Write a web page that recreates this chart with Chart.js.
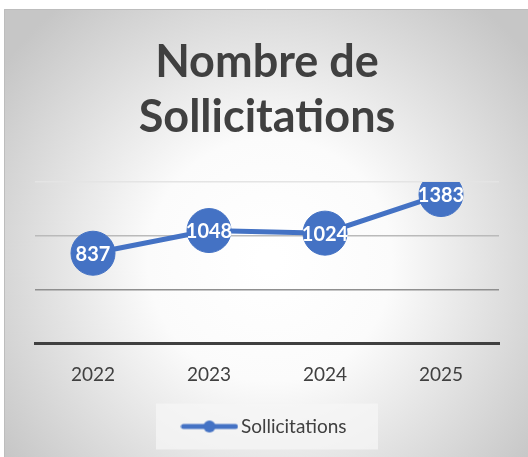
<!DOCTYPE html>
<html>
<head>
<meta charset="utf-8">
<script src="https://cdn.jsdelivr.net/npm/chart.js@4.4.1/dist/chart.umd.min.js"></script>
<style>
html,body{margin:0;padding:0;background:#fff;}
#wrap{position:absolute;left:0;top:0;width:528px;height:457px;}
</style>
</head>
<body>
<div id="wrap"><canvas id="c" width="528" height="457"></canvas></div>
<script>
const categories = ["2022", "2023", "2024", "2025"];
const sollicitations = [837, 1048, 1024, 1383];
const seriesName = "Sollicitations";
const titleLines = ["Nombre de", "Sollicitations"];
const yTicks = [0, 500, 1000, 1500];

const BLUE = "#4472C4";

// legend icon: line with dot
const icon = document.createElement("canvas");
icon.width = 58; icon.height = 14;
(function(){
  const g = icon.getContext("2d");
  g.strokeStyle = BLUE; g.lineWidth = 5; g.lineCap = "round";
  g.beginPath(); g.moveTo(3, 7); g.lineTo(55, 7); g.stroke();
  g.fillStyle = BLUE; g.beginPath(); g.arc(29, 7, 6, 0, Math.PI*2); g.fill();
})();

const bgPlugin = {
  id: "bg",
  beforeDraw(chart) {
    const ctx = chart.ctx;
    ctx.save();
    ctx.fillStyle = "#fff";
    ctx.fillRect(0, 0, chart.width, chart.height);
    const x0 = 4, y0 = 9, x1 = chart.width, y1 = chart.height;
    const grd = ctx.createRadialGradient(270, 260, 10, 270, 260, 330);
    grd.addColorStop(0, "#ffffff");
    grd.addColorStop(0.35, "#fbfbfb");
    grd.addColorStop(1, "#c6c6c6");
    ctx.fillStyle = grd;
    ctx.fillRect(x0, y0, x1 - x0, y1 - y0);
    ctx.strokeStyle = "#bdbdbd";
    ctx.lineWidth = 1;
    ctx.beginPath();
    ctx.moveTo(x0 + 0.5, y1); ctx.lineTo(x0 + 0.5, y0 + 0.5); ctx.lineTo(x1, y0 + 0.5);
    ctx.stroke();
    // legend box
    const lg = chart.legend;
    if (lg && lg.legendHitBoxes && lg.legendHitBoxes.length) {
      const hb = lg.legendHitBoxes[0];
      const cy = hb.top + hb.height / 2;
      ctx.fillStyle = "rgba(245,245,245,0.75)";
      ctx.fillRect(156, cy - 23, 222, 46);
    }
    ctx.restore();
  }
};

const labelPlugin = {
  id: "pointLabels",
  afterDatasetsDraw(chart) {
    const ctx = chart.ctx;
    const meta = chart.getDatasetMeta(0);
    ctx.save();
    ctx.fillStyle = "#ffffff";
    ctx.font = "bold 20px Lato, 'Liberation Sans', sans-serif";
    ctx.textAlign = "center";
    ctx.textBaseline = "middle";
    meta.data.forEach((pt, i) => {
      ctx.fillText(String(chart.data.datasets[0].data[i]), pt.x, pt.y + 1);
    });
    ctx.restore();
  }
};

const gridColors = ["#404040", "#8f8f8f", "#bababa", "#e4e4e4"];

new Chart(document.getElementById("c"), {
  type: "line",
  data: {
    labels: categories,
    datasets: [{
      label: seriesName,
      data: sollicitations,
      borderColor: BLUE,
      backgroundColor: BLUE,
      borderWidth: 5,
      pointRadius: 22,
      pointHoverRadius: 22,
      pointBackgroundColor: BLUE,
      pointBorderColor: BLUE,
      pointBorderWidth: 1,
      tension: 0
    }]
  },
  plugins: [bgPlugin, labelPlugin],
  options: {
    responsive: false,
    animation: false,
    devicePixelRatio: 1,
    layout: { padding: { left: 35, right: 29, top: 34, bottom: 11 } },
    scales: {
      x: {
        offset: true,
        afterFit(scale) { scale.height -= 5; },
        grid: { display: false, drawTicks: false },
        border: { display: true, color: "#404040", width: 3 },
        ticks: { color: "#404040", font: { size: 19, family: "Lato, 'Liberation Sans', sans-serif" }, padding: 20 }
      },
      y: {
        min: 0, max: 1500,
        afterBuildTicks(scale) { scale.ticks = yTicks.map(v => ({ value: v })); },
        afterFit(scale) { scale.width = 0; },
        grid: {
          drawTicks: false,
          lineWidth: 1.5,
          color: (c) => gridColors[c.index] || "#ccc"
        },
        border: { display: false },
        ticks: { display: false }
      }
    },
    plugins: {
      title: {
        display: true,
        text: titleLines,
        color: "#404040",
        font: { size: 45, weight: "bold", family: "Lato, 'Liberation Sans', sans-serif", lineHeight: 1.244 },
        padding: { top: 0, bottom: 36 }
      },
      legend: {
        display: true,
        position: "bottom",
        labels: {
          usePointStyle: true,
          pointStyleWidth: 44,
          boxHeight: 14,
          generateLabels(chart) {
            return [{ text: seriesName, pointStyle: icon, fillStyle: BLUE, strokeStyle: BLUE, lineWidth: 0, fontColor: "#404040", datasetIndex: 0, hidden: false }];
          },
          color: "#404040",
          font: { size: 19, family: "Lato, 'Liberation Sans', sans-serif" },
          padding: 16
        }
      },
      tooltip: { enabled: false }
    }
  }
});
</script>
</body>
</html>
